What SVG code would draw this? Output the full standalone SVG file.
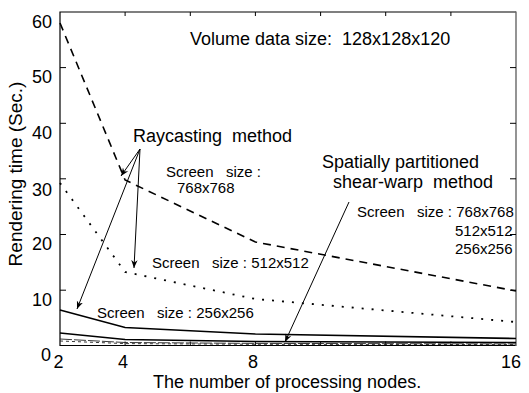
<svg xmlns="http://www.w3.org/2000/svg" width="529" height="393" viewBox="0 0 529 393">
  <style>
    text { font-family: "Liberation Sans", Arial, sans-serif; fill: #000; white-space: pre; }
    .big { font-size: 18px; }
    .small { font-size: 15px; }
    .tick { font-size: 18px; }
    .axis { fill: none; stroke: #000; stroke-width: 1.2; }
    .tk { stroke: #000; stroke-width: 1; }
    .dash { fill: none; stroke: #000; stroke-width: 1.6; stroke-dasharray: 8 6; }
    .dot { fill: none; stroke: #000; stroke-width: 1.8; stroke-dasharray: 2 8; }
    .solid { fill: none; stroke: #000; stroke-width: 1.6; }
    .faint { fill: none; stroke: #222; stroke-width: 0.9; }
    .arrow { fill: none; stroke: #000; stroke-width: 1; marker-end: url(#head); }
  </style>
  <defs>
    <marker id="head" viewBox="0 0 10 10" refX="10" refY="5" markerWidth="8" markerHeight="8" markerUnits="userSpaceOnUse" orient="auto">
      <path d="M0,1 L10,5 L0,9 L3,5 Z" fill="#000"/>
    </marker>
  </defs>

  <!-- plot frame -->
  <g id="frame">
    <path class="axis" d="M516,12 L60,12 L60,345.5 L516,345.5"/>
    <line x1="516" y1="11.5" x2="516" y2="346" stroke="#666" stroke-width="1.4"/>
    <!-- x ticks (every 2 nodes) -->
    <path class="tk" d="M125.1,12 v4 M190.3,12 v4 M255.4,12 v4 M320.6,12 v4 M385.7,12 v4 M450.9,12 v4
                        M125.1,345.5 v-4 M190.3,345.5 v-4 M255.4,345.5 v-4 M320.6,345.5 v-4 M385.7,345.5 v-4 M450.9,345.5 v-4"/>
    <!-- y ticks (every 10 s) -->
    <path class="tk" d="M60,67.6 h6 M60,123.3 h6 M60,178.8 h6 M60,234.5 h6 M60,290.2 h6
                        M516,67.6 h-6 M516,123.3 h-6 M516,178.8 h-6 M516,234.5 h-6 M516,290.2 h-6"/>
  </g>

  <!-- tick labels -->
  <g id="y-labels" text-anchor="end" class="tick">
    <text x="52" y="28">60</text>
    <text x="52" y="83">50</text>
    <text x="52" y="139">40</text>
    <text x="52" y="196">30</text>
    <text x="52" y="250">20</text>
    <text x="52" y="306">10</text>
    <text x="51" y="361">0</text>
  </g>
  <g id="x-labels" text-anchor="middle" class="tick">
    <text x="58.5" y="368">2</text>
    <text x="123" y="368">4</text>
    <text x="253" y="368">8</text>
    <text x="511" y="368">16</text>
  </g>

  <!-- axis titles -->
  <text id="x-title" class="big" x="153" y="388">The number of processing nodes.</text>
  <text id="y-title" text-anchor="middle" transform="translate(22,174) rotate(-90)" style="font-size:19px">Rendering time (Sec.)</text>

  <!-- data series -->
  <g id="series">
    <!-- raycasting 768x768 -->
    <polyline id="ray-768" class="dash" points="60,23 125.1,180 255.4,242 516,291"/>
    <!-- raycasting 512x512 -->
    <polyline id="ray-512" class="dot" points="60,183 125.1,272 255.4,299 516,322"/>
    <!-- raycasting 256x256 -->
    <polyline id="ray-256" class="solid" points="60,310 125.1,327.5 255.4,334 516,338.5"/>
    <!-- shear-warp curves -->
    <polyline id="sw-256" class="solid" stroke-width="2" points="60,333 125.1,339.5 255.4,341.5 516,342.5"/>
    <polyline id="sw-512" class="faint" stroke-dasharray="12 2" points="60,339 125.1,342.5 255.4,343.4 516,343.9"/>
    <polyline id="sw-768" class="faint" stroke-dasharray="3 3" stroke="#555" points="60,341 125.1,343.6 255.4,344.3 516,344.6"/>
  </g>

  <!-- annotation leaders -->
  <g id="connectors">
    <line class="arrow" x1="140" y1="149" x2="121" y2="176"/>
    <line class="arrow" x1="140" y1="149" x2="134" y2="268"/>
    <line class="arrow" x1="140" y1="149" x2="77" y2="309"/>
    <line class="arrow" x1="349" y1="202" x2="285" y2="342"/>
  </g>

  <!-- annotations -->
  <g id="title-note"><text class="big" x="190" y="45">Volume data size:  128x128x120</text></g>
  <g id="raycast-note"><text class="big" x="133" y="142">Raycasting  method</text></g>
  <g id="ray-768-note">
    <text class="small" x="166" y="177">Screen   size :</text>
    <text class="small" x="177" y="193">768x768</text>
  </g>
  <g id="ray-512-note"><text class="small" x="152" y="268">Screen   size : 512x512</text></g>
  <g id="ray-256-note"><text class="small" x="97" y="318">Screen   size : 256x256</text></g>
  <g id="shear-note">
    <text class="big" x="322" y="168">Spatially partitioned</text>
    <text class="big" x="333" y="188">shear-warp  method</text>
  </g>
  <g id="shear-sizes-note">
    <text class="small" x="357" y="217">Screen   size : 768x768</text>
    <text class="small" x="455" y="236">512x512</text>
    <text class="small" x="455" y="254">256x256</text>
  </g>
</svg>
